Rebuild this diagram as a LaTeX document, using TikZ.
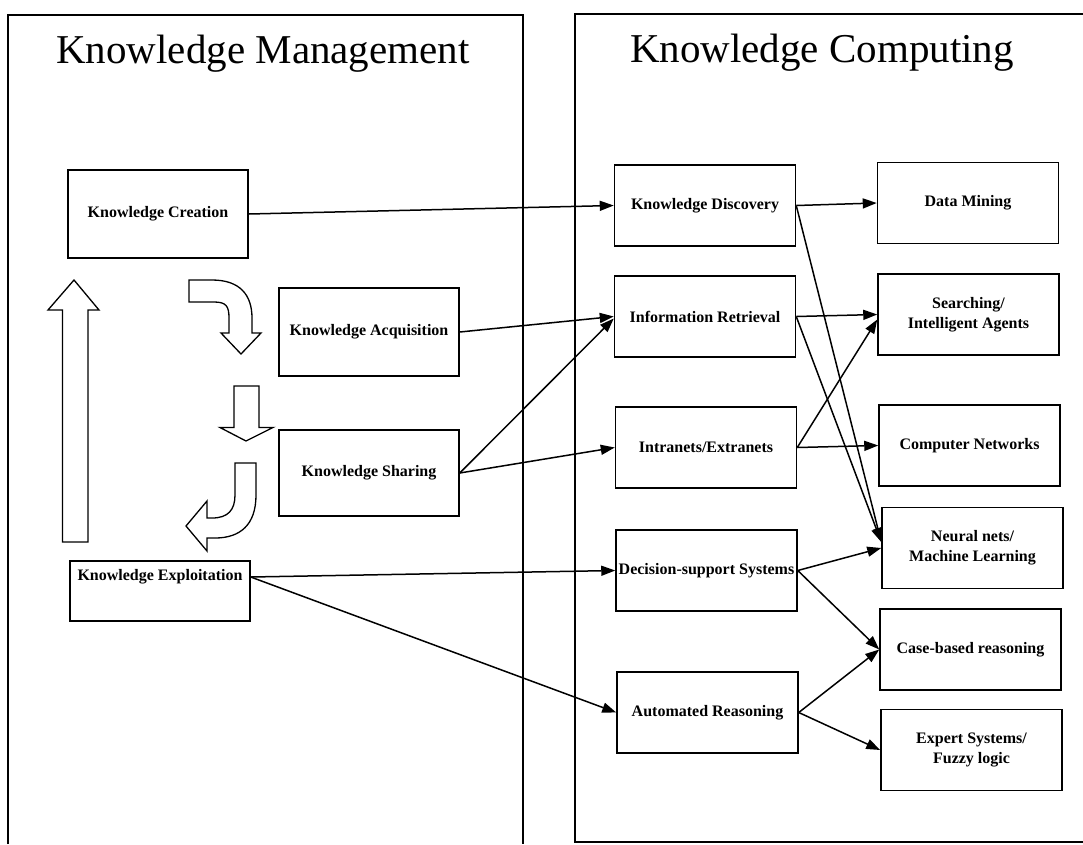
\documentclass[tikz,border=0pt]{standalone}
\usepackage{fontspec}
\setmainfont{Liberation Serif}
\usetikzlibrary{arrows.meta,calc}
\begin{document}
\begin{tikzpicture}[x=1pt,y=-1pt,
  panel/.style={line width=1.5pt},
  box/.style={draw, line width=1.5pt, minimum width=181pt, minimum height=81pt, inner sep=0pt, align=center, font=\fontsize{16}{20}\selectfont\bfseries},
  lbl/.style={inner sep=0pt, font=\fontsize{16}{20}\selectfont\bfseries},
  title/.style={anchor=base, inner sep=0pt, font=\fontsize{41}{48}\selectfont},
  conn/.style={line width=1.5pt, -{Triangle[length=14pt,width=10pt]}},
  blockarrow/.style={draw, line width=1.3pt, fill=white, line join=miter}]
\useasboundingbox (0,0) rectangle (1083,844);

% panels
\draw[panel] (8,844) -- (8,15) -- (523,15) -- (523,844);
\draw[panel] (1083,14) -- (575,14) -- (575,842) -- (1083,842);

% titles
\node[title] (kmtitle) at (263,63) {Knowledge Management};
\node[title] (kctitle) at (822,62) {Knowledge Computing};

% left boxes
\node[box, minimum width=180pt, minimum height=88pt] (creation) at (158,214) {Knowledge Creation};
\node[box, minimum width=180pt, minimum height=88pt] (acquisition) at (369,332) {Knowledge Acquisition};
\node[box, minimum width=180pt, minimum height=86pt] (sharing) at (369,473) {Knowledge Sharing};
\node[box, minimum width=180pt, minimum height=60pt] (exploit) at (160,591) {};
\node[lbl] (exlbl) at (160,577) {Knowledge Exploitation};

% middle boxes
\node[box] (discovery) at (705,205.5) {Knowledge Discovery};
\node[box] (inforet) at (705,316.5) {Information Retrieval};
\node[box] (intranets) at (706,447.5) {Intranets/Extranets};
\node[box] (decision) at (706.5,570.5) {Decision-support Systems};
\node[box] (automated) at (707.5,712.5) {Automated Reasoning};

% right boxes
\node[box] (datamining) at (968,203) {Data Mining};
\node[box] (searching) at (968.5,314.5) {Searching/\\Intelligent Agents};
\node[box] (compnet) at (969.5,445.5) {Computer Networks};
\node[box] (neural) at (972.5,548) {Neural nets/\\Machine Learning};
\node[box] (casebased) at (970.5,649.5) {Case-based reasoning};
\node[box] (expert) at (971.5,750) {Expert Systems/\\Fuzzy logic};

% block arrows (left cycle)
\path[blockarrow] (62.5,542) -- (62.5,310) -- (48,310) -- (74,280) -- (99,310) -- (88,310) -- (88,542) -- cycle;
\path[blockarrow] (189,280) -- (212,280) .. controls (240,280) and (252,295) .. (252,318) -- (252,333) -- (261,333) -- (241,354) -- (221,333) -- (229,333) -- (229,318) .. controls (229,306) and (226,302) .. (214,302) -- (189,302) -- cycle;
\path[blockarrow] (234,386) -- (259,386) -- (259,427.5) -- (273,427.5) -- (246,441) -- (220,427.5) -- (234,427.5) -- cycle;
\path[blockarrow] (235,463) -- (256,463) -- (256,495) .. controls (256,525) and (240,538) .. (215,538) -- (207,538) -- (207,551) -- (186,526) -- (207,501) -- (207,518) -- (212,518) .. controls (228,518) and (235,510) .. (235,495) -- cycle;

% connectors
\draw[conn] (creation.east) -- (discovery.west);
\draw[conn] (acquisition.east) -- (inforet.west);
\draw[conn] (sharing.east) -- ([yshift=-2pt]inforet.west);
\draw[conn] (sharing.east) -- (intranets.west);
\draw[conn] (exlbl -| exploit.east) -- (decision.west);
\draw[conn] (exlbl -| exploit.east) -- (automated.west);

\draw[conn] (discovery.east) -- (datamining.west);
\draw[conn] (discovery.east) -- ([yshift=6pt]neural.west);
\draw[conn] (inforet.east) -- (searching.west);
\draw[conn] (inforet.east) -- ([yshift=6pt]neural.west);
\draw[conn] (intranets.east) -- ([yshift=-5pt]searching.west);
\draw[conn] (intranets.east) -- (compnet.west);
\draw[conn] (decision.east) -- (neural.west);
\draw[conn] (decision.east) -- (casebased.west);
\draw[conn] (automated.east) -- (casebased.west);
\draw[conn] (automated.east) -- (expert.west);
\end{tikzpicture}
\end{document}
